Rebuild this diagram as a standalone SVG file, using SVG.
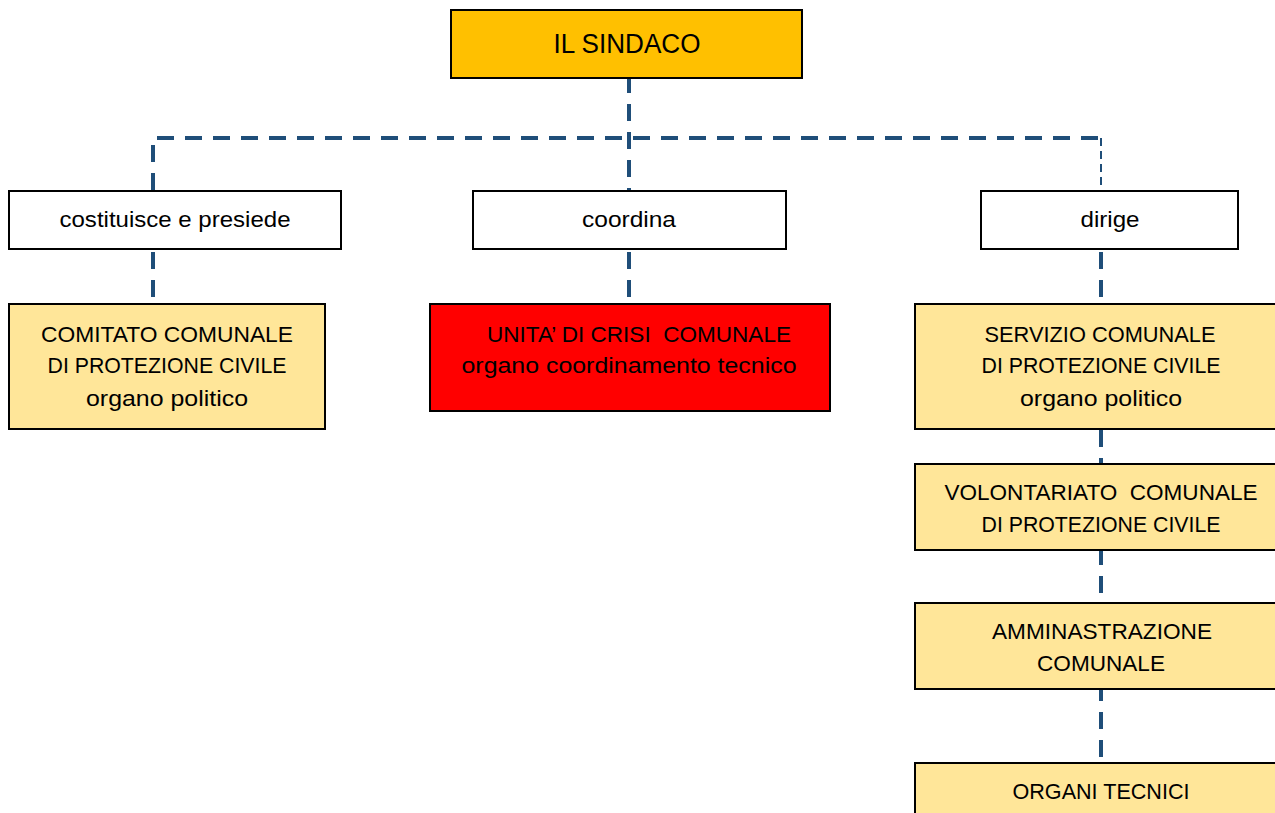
<svg xmlns="http://www.w3.org/2000/svg" width="1275" height="813" viewBox="0 0 1275 813">
<style>
.box{stroke:#000;stroke-width:2}
.w{fill:#fff}
.y{fill:#FFE699}
.t{font-family:"Liberation Sans",Arial,sans-serif;font-size:22px;fill:#000;text-anchor:middle}
.c{fill:none;stroke:#1F4E79;stroke-width:4;stroke-dasharray:17 11}
.thin{stroke-width:2;stroke-dasharray:8 5}
</style>
<rect width="1275" height="813" fill="#fff"/>
<g id="connectors">
<path class="c" d="M629 76 V190"/>
<path class="c" d="M153 190 V138 H1101"/>
<path class="c thin" d="M1101 138 V190"/>
<path class="c" d="M153 252 V303"/>
<path class="c" d="M629 252 V303"/>
<path class="c" d="M1101 252 V303"/>
<path class="c" d="M1101 430 V463"/>
<path class="c" d="M1101 548 V602"/>
<path class="c" d="M1101 684 V762"/>
</g>
<g id="sindaco">
<rect class="box" x="451" y="10" width="351" height="68" fill="#FFC000"/>
<text class="t" x="627" y="53" style="font-size:27px" textLength="147" lengthAdjust="spacingAndGlyphs">IL SINDACO</text>
</g>
<g id="costituisce">
<rect class="box w" x="9" y="191" width="332" height="58"/>
<text class="t" x="175" y="227" textLength="231" lengthAdjust="spacingAndGlyphs">costituisce e presiede</text>
</g>
<g id="coordina">
<rect class="box w" x="473" y="191" width="313" height="58"/>
<text class="t" x="629" y="227" textLength="94" lengthAdjust="spacingAndGlyphs">coordina</text>
</g>
<g id="dirige">
<rect class="box w" x="981" y="191" width="257" height="58"/>
<text class="t" x="1110" y="227" textLength="59" lengthAdjust="spacingAndGlyphs">dirige</text>
</g>
<g id="comitato">
<rect class="box y" x="9" y="304" width="316" height="125"/>
<text class="t" x="167" y="342" textLength="252" lengthAdjust="spacingAndGlyphs">COMITATO COMUNALE</text>
<text class="t" x="167" y="373" textLength="239" lengthAdjust="spacingAndGlyphs">DI PROTEZIONE CIVILE</text>
<text class="t" x="167" y="406" textLength="162" lengthAdjust="spacingAndGlyphs">organo politico</text>
</g>
<g id="unita">
<rect class="box" x="430" y="304" width="400" height="107" fill="#FF0000"/>
<text class="t" x="639" y="342" textLength="304" lengthAdjust="spacingAndGlyphs" xml:space="preserve">UNITA’ DI CRISI  COMUNALE</text>
<text class="t" x="629" y="373" textLength="335" lengthAdjust="spacingAndGlyphs">organo coordinamento tecnico</text>
</g>
<g id="servizio">
<rect class="box y" x="915" y="304" width="365" height="125"/>
<text class="t" x="1100" y="342" textLength="231" lengthAdjust="spacingAndGlyphs">SERVIZIO COMUNALE</text>
<text class="t" x="1101" y="373" textLength="239" lengthAdjust="spacingAndGlyphs">DI PROTEZIONE CIVILE</text>
<text class="t" x="1101" y="406" textLength="162" lengthAdjust="spacingAndGlyphs">organo politico</text>
</g>
<g id="volontariato">
<rect class="box y" x="915" y="464" width="365" height="86"/>
<text class="t" x="1101" y="500" textLength="313" lengthAdjust="spacingAndGlyphs" xml:space="preserve">VOLONTARIATO  COMUNALE</text>
<text class="t" x="1101" y="532" textLength="239" lengthAdjust="spacingAndGlyphs">DI PROTEZIONE CIVILE</text>
</g>
<g id="amministrazione">
<rect class="box y" x="915" y="603" width="365" height="86"/>
<text class="t" x="1102" y="639" textLength="220" lengthAdjust="spacingAndGlyphs">AMMINASTRAZIONE</text>
<text class="t" x="1101" y="671" textLength="128" lengthAdjust="spacingAndGlyphs">COMUNALE</text>
</g>
<g id="organi">
<rect class="box y" x="915" y="763" width="365" height="60"/>
<text class="t" x="1101" y="799" textLength="177" lengthAdjust="spacingAndGlyphs">ORGANI TECNICI</text>
</g>
</svg>
